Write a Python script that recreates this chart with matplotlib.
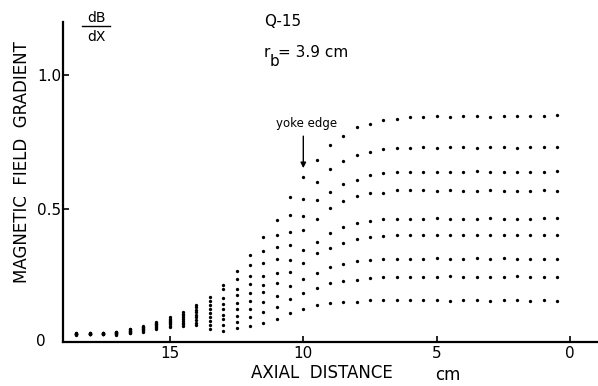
import matplotlib
matplotlib.use("Agg")
import matplotlib.pyplot as plt
from matplotlib.lines import Line2D

# =========================================================
# Data
# =========================================================

# axial positions of the measured columns, cm
axial_cm = [18.5, 18.0, 17.5, 17.0, 16.5, 16.0, 15.5, 15.0, 14.5, 14.0,
            13.5, 13.0, 12.5, 12.0, 11.5, 11.0, 10.5, 10.0, 9.5, 9.0,
            8.5, 8.0, 7.5, 7.0, 6.5, 6.0, 5.5, 5.0, 4.5, 4.0,
            3.5, 3.0, 2.5, 2.0, 1.5, 1.0, 0.5]

# dB/dX, one list per measured curve (top to bottom)
grad_1 = [0.032, 0.033, 0.034, 0.039, 0.049, 0.060, 0.075, 0.092, 0.113, 0.139,
          0.170, 0.215, 0.267, 0.325, 0.392, 0.458, 0.544, 0.619, 0.682, 0.738,
          0.772, 0.806, 0.819, 0.831, 0.838, 0.842, 0.844, 0.846, 0.845, 0.846,
          0.846, 0.845, 0.846, 0.847, 0.848, 0.849, 0.850]
grad_2 = [0.032, 0.032, 0.033, 0.038, 0.047, 0.057, 0.072, 0.088, 0.106, 0.130,
          0.155, 0.197, 0.235, 0.287, 0.342, 0.401, 0.476, 0.538, 0.600, 0.650,
          0.679, 0.703, 0.712, 0.722, 0.729, 0.729, 0.730, 0.729, 0.730, 0.731,
          0.729, 0.730, 0.730, 0.729, 0.730, 0.731, 0.731]
grad_3 = [0.031, 0.032, 0.033, 0.036, 0.045, 0.055, 0.069, 0.083, 0.100, 0.120,
          0.140, 0.164, 0.197, 0.247, 0.295, 0.356, 0.413, 0.472, 0.532, 0.563,
          0.591, 0.609, 0.628, 0.634, 0.637, 0.638, 0.637, 0.639, 0.637, 0.638,
          0.640, 0.638, 0.637, 0.638, 0.639, 0.638, 0.640]
grad_4 = [0.031, 0.031, 0.032, 0.035, 0.043, 0.052, 0.066, 0.079, 0.093, 0.111,
          0.125, 0.143, 0.177, 0.216, 0.247, 0.312, 0.363, 0.419, 0.463, 0.501,
          0.529, 0.547, 0.557, 0.559, 0.569, 0.569, 0.570, 0.568, 0.569, 0.567,
          0.568, 0.569, 0.568, 0.567, 0.568, 0.569, 0.568]
grad_5 = [0.030, 0.031, 0.031, 0.033, 0.041, 0.050, 0.063, 0.075, 0.087, 0.102,
          0.110, 0.124, 0.147, 0.182, 0.213, 0.257, 0.307, 0.345, 0.376, 0.407,
          0.430, 0.445, 0.453, 0.460, 0.460, 0.463, 0.462, 0.464, 0.463, 0.462,
          0.463, 0.464, 0.463, 0.462, 0.463, 0.464, 0.464]
grad_6 = [0.030, 0.030, 0.031, 0.032, 0.038, 0.047, 0.059, 0.070, 0.080, 0.092,
          0.095, 0.102, 0.122, 0.154, 0.186, 0.221, 0.263, 0.295, 0.332, 0.351,
          0.370, 0.385, 0.392, 0.397, 0.402, 0.401, 0.400, 0.401, 0.402, 0.401,
          0.400, 0.401, 0.402, 0.401, 0.400, 0.401, 0.401]
grad_7 = [0.029, 0.030, 0.030, 0.030, 0.036, 0.044, 0.056, 0.066, 0.073, 0.083,
          0.080, 0.085, 0.097, 0.122, 0.149, 0.173, 0.210, 0.238, 0.257, 0.282,
          0.291, 0.303, 0.307, 0.310, 0.311, 0.313, 0.312, 0.314, 0.313, 0.312,
          0.314, 0.313, 0.314, 0.313, 0.312, 0.313, 0.312]
grad_8 = [0.029, 0.029, 0.030, 0.029, 0.034, 0.042, 0.053, 0.061, 0.067, 0.073,
          0.065, 0.065, 0.075, 0.092, 0.111, 0.132, 0.160, 0.182, 0.201, 0.220,
          0.228, 0.232, 0.239, 0.242, 0.245, 0.245, 0.244, 0.245, 0.246, 0.245,
          0.244, 0.245, 0.245, 0.246, 0.245, 0.244, 0.243]
grad_9 = [0.028, 0.029, 0.029, 0.027, 0.032, 0.039, 0.050, 0.057, 0.060, 0.064,
          0.050, 0.042, 0.051, 0.060, 0.072, 0.088, 0.107, 0.122, 0.139, 0.145,
          0.151, 0.151, 0.157, 0.157, 0.157, 0.157, 0.156, 0.157, 0.155, 0.157,
          0.156, 0.155, 0.157, 0.156, 0.155, 0.156, 0.155]

curves = [grad_1, grad_2, grad_3, grad_4, grad_5, grad_6, grad_7, grad_8, grad_9]

x_ticks = [15, 10, 5, 0]
x_tick_labels = ["15", "10", "5", "0"]
y_ticks = [0.5, 1.0]
y_tick_labels = ["0.5", "1.0"]

YOKE_EDGE_CM = 10.0

# =========================================================
# Figure
# =========================================================

W, H = 598, 386


def fx(px):
    return px / W


def fy(py):
    return 1 - py / H


fig = plt.figure(figsize=(W / 100, H / 100), dpi=100)
ax = fig.add_axes([fx(63), fy(342), (597 - 63) / W, (342 - 22) / H])

for grad in curves:
    ax.plot(axial_cm, grad, linestyle="none", marker="o",
            markersize=2.4, color="black", markeredgewidth=0)

ax.set_xlim(19.0, -1.0)
ax.set_ylim(0, 1.2)

for side in ["top", "right"]:
    ax.spines[side].set_visible(False)
for side in ["left", "bottom"]:
    ax.spines[side].set_linewidth(1.6)

ax.set_xticks(x_ticks)
ax.set_xticklabels(x_tick_labels)
ax.set_yticks(y_ticks)
ax.set_yticklabels(y_tick_labels)
ax.tick_params(axis="both", direction="in", length=4, width=1.2,
               labelsize=11, colors="black")
ax.tick_params(axis="x", pad=3)
ax.tick_params(axis="y", pad=1)

# "0" on the y axis sits a bit left of the others
fig.text(fx(41), fy(342), "0", fontsize=11, ha="center", va="center")

# axis labels
fig.text(fx(22), fy(162), "MAGNETIC  FIELD  GRADIENT", fontsize=12,
         rotation=90, ha="center", va="center")
fig.text(fx(322), fy(373), "AXIAL  DISTANCE", fontsize=12,
         ha="center", va="center")
fig.text(fx(448), fy(375), "cm", fontsize=12, ha="center", va="center")

# dB/dX fraction
fig.text(fx(96), fy(18), "dB", fontsize=10, ha="center", va="center")
fig.text(fx(96), fy(37), "dX", fontsize=10, ha="center", va="center")
fig.add_artist(Line2D([fx(82), fx(110)], [fy(26), fy(26)],
                      color="black", linewidth=1.0))

# run label and bore radius (big, low subscript like the original)
fig.text(fx(264), fy(22), "Q-15", fontsize=11, ha="left", va="center")
fig.text(fx(264), fy(57), "r", fontsize=11, ha="left", va="baseline")
fig.text(fx(270), fy(66), "b", fontsize=11, ha="left", va="baseline")
fig.text(fx(278), fy(57), "= 3.9 cm", fontsize=11, ha="left", va="baseline")

ax.text(9.89, 0.82, "yoke edge", fontsize=8.5, ha="center", va="center")
ax.annotate("", xy=(YOKE_EDGE_CM, 0.652), xytext=(YOKE_EDGE_CM, 0.772),
            arrowprops=dict(arrowstyle="-|>", color="black", lw=1.0,
                            mutation_scale=8, shrinkA=0, shrinkB=0))

fig.savefig("out.png", dpi=100)
